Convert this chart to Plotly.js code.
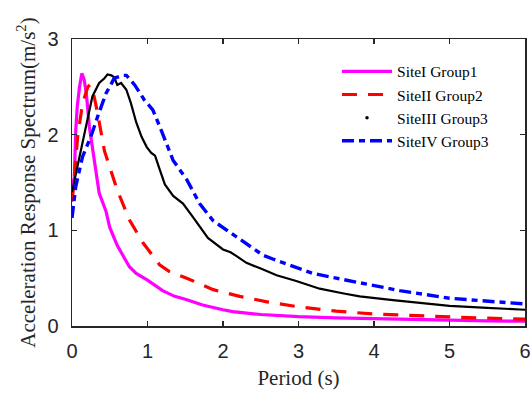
<!DOCTYPE html>
<html>
<head>
<meta charset="utf-8">
<script src="https://cdn.plot.ly/plotly-3.0.1.min.js"></script>
<style>html,body{margin:0;padding:0;background:#fff;}#chart{width:532px;height:394px;}</style>
</head>
<body>
<div id="chart"></div>
<script>
// Site I Group1 (magenta solid)
const periodI = [0, 0.03, 0.05, 0.07, 0.1, 0.13, 0.16, 0.19, 0.23, 0.3, 0.36, 0.45, 0.5, 0.6, 0.76, 0.85, 1.0, 1.2, 1.36, 1.5, 1.73, 2.0, 2.13, 2.5, 3.0, 3.5, 4.0, 4.5, 5.0, 5.5, 6.0];
const accelI  = [1.45, 1.55, 2.05, 2.3, 2.5, 2.64, 2.58, 2.43, 2.08, 1.73, 1.39, 1.2, 1.03, 0.84, 0.62, 0.55, 0.48, 0.37, 0.31, 0.28, 0.22, 0.17, 0.15, 0.12, 0.097, 0.085, 0.075, 0.065, 0.058, 0.053, 0.05];

// Site II Group2 (red dashed)
const periodII = [0, 0.02, 0.075, 0.14, 0.21, 0.24, 0.28, 0.34, 0.43, 0.47, 0.53, 0.6, 0.76, 0.94, 1.16, 1.29, 1.52, 1.87, 2.22, 2.6, 3.0, 3.5, 4.0, 4.5, 5.0, 5.5, 6.0];
const accelII  = [1.3, 1.45, 1.98, 2.33, 2.5, 2.52, 2.45, 2.22, 1.83, 1.73, 1.6, 1.42, 1.11, 0.87, 0.64, 0.57, 0.5, 0.38, 0.31, 0.25, 0.2, 0.155, 0.125, 0.107, 0.095, 0.082, 0.072];

// Site III Group3 (black)
const periodIII = [0, 0.053, 0.12, 0.16, 0.21, 0.27, 0.36, 0.43, 0.47, 0.52, 0.56, 0.6, 0.65, 0.72, 0.78, 0.85, 0.92, 0.99, 1.05, 1.1, 1.16, 1.23, 1.34, 1.47, 1.6, 1.8, 2.0, 2.1, 2.18, 2.31, 2.5, 2.71, 2.97, 3.28, 3.6, 3.81, 4.25, 4.7, 5.0, 5.5, 6.0];
const accelIII  = [1.4, 1.6, 1.84, 1.98, 2.19, 2.4, 2.54, 2.59, 2.63, 2.62, 2.6, 2.52, 2.54, 2.47, 2.33, 2.13, 1.98, 1.87, 1.81, 1.78, 1.64, 1.48, 1.36, 1.28, 1.14, 0.92, 0.8, 0.77, 0.73, 0.66, 0.6, 0.53, 0.47, 0.39, 0.34, 0.31, 0.27, 0.23, 0.21, 0.19, 0.17];

// Site IV Group3 (blue dash-dot)
const periodIV = [0, 0.05, 0.14, 0.25, 0.34, 0.45, 0.56, 0.67, 0.72, 0.83, 0.96, 1.07, 1.18, 1.34, 1.52, 1.69, 1.87, 1.96, 2.31, 2.53, 2.66, 3.0, 3.19, 3.5, 3.81, 4.34, 5.0, 5.5, 6.0];
const accelIV  = [1.13, 1.46, 1.77, 1.98, 2.19, 2.43, 2.59, 2.62, 2.62, 2.52, 2.36, 2.26, 2.05, 1.73, 1.53, 1.28, 1.1, 1.05, 0.86, 0.74, 0.7, 0.6, 0.55, 0.5, 0.45, 0.37, 0.29, 0.26, 0.23];

const seriesNames = ["SiteI Group1", "SiteII Group2", "SiteIII Group3", "SiteIV Group3"];
const xTickVals = [0, 1, 2, 3, 4, 5, 6];
const yTickVals = [0, 1, 2, 3];

const traces = [
  {x: periodI, y: accelI, name: seriesNames[0], mode: 'lines',
   line: {color: '#FF00FF', width: 3.2}},
  {x: periodII, y: accelII, name: seriesNames[1], mode: 'lines',
   line: {color: '#FF0000', width: 3.2, dash: '15px,11px'}},
  {x: periodIII, y: accelIII, name: seriesNames[2], mode: 'lines', showlegend: false,
   line: {color: '#000000', width: 2.2}},
  {x: [null], y: [null], name: seriesNames[2], mode: 'markers',
   marker: {color: '#000000', size: 3.5}},
  {x: periodIV, y: accelIV, name: seriesNames[3], mode: 'lines',
   line: {color: '#0000FF', width: 3.4, dash: '12px,5px,6px,5px'}}
];

const axisCommon = {
  showgrid: false, zeroline: false, showline: true, mirror: 'ticks',
  linecolor: '#262626', linewidth: 1.5,
  ticks: 'inside', ticklen: 5, tickwidth: 1.5, tickcolor: '#262626',
  tickfont: {family: 'Liberation Sans, Arial, sans-serif', size: 20, color: '#262626'}
};

const layout = {
  width: 532, height: 394,
  margin: {l: 72, r: 7, t: 39, b: 68},
  paper_bgcolor: '#ffffff', plot_bgcolor: '#ffffff',
  xaxis: Object.assign({}, axisCommon, {
    range: [0, 6], tickvals: xTickVals, ticklabelstandoff: 6,
    title: {text: 'Period (s)', font: {family: 'Liberation Serif, Times New Roman, serif', size: 21, color: '#262626'}, standoff: 10}
  }),
  yaxis: Object.assign({}, axisCommon, {
    range: [0, 3], tickvals: yTickVals, ticklabelstandoff: 8,
    title: {text: 'Acceleration Response Spectrum(m/s<sup>2</sup>)', font: {family: 'Liberation Serif, Times New Roman, serif', size: 21, color: '#262626'}, standoff: 6}
  }),
  legend: {
    x: 0.585, y: 0.945, xanchor: 'left', yanchor: 'top',
    bgcolor: 'rgba(255,255,255,0)', borderwidth: 0, itemwidth: 50,
    font: {family: 'Liberation Serif, Times New Roman, serif', size: 15.5, color: '#000000'},
    tracegroupgap: 0
  },
  showlegend: true
};

Plotly.newPlot('chart', traces, layout, {displayModeBar: false, staticPlot: true});
</script>
</body>
</html>
